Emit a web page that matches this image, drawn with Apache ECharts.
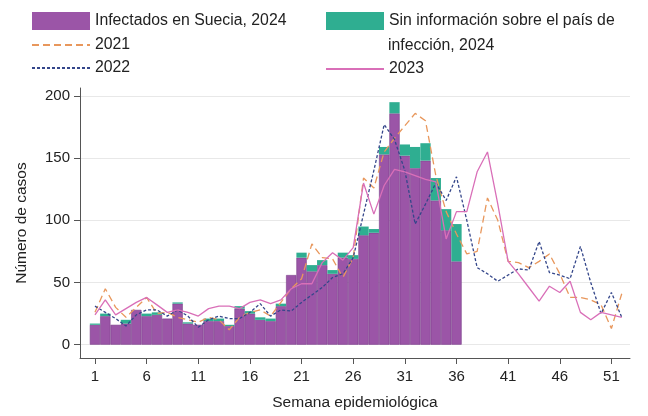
<!DOCTYPE html>
<html>
<head>
<meta charset="utf-8">
<script src="https://cdn.jsdelivr.net/npm/echarts@6/dist/echarts.min.js"></script>
<style>
  html, body { margin: 0; padding: 0; background: #fff; }
  #chart { width: 648px; height: 416px; }
</style>
</head>
<body>
<div id="chart"></div>
<script>
// semanas epidemiológicas
const weeks = [1, 2, 3, 4, 5, 6, 7, 8, 9, 10, 11, 12, 13, 14, 15, 16, 17, 18, 19, 20,
  21, 22, 23, 24, 25, 26, 27, 28, 29, 30, 31, 32, 33, 34, 35, 36, 37, 38, 39, 40,
  41, 42, 43, 44, 45, 46, 47, 48, 49, 50, 51, 52]

// 2024 (semanas 1-36)
const infected2024 = [16, 23, 16, 17, 28, 23, 24, 21, 33, 17, 16, 19, 19, 15, 29, 25, 20, 19,
  31, 56, 70, 59, 64, 57, 70, 69, 88, 90, 153, 186, 152, 142, 148, 116, 92, 67]
const unknown2024 = [1, 2, 0, 3, 0, 2, 2, 0, 1, 1, 0, 2, 2, 1, 2, 2, 2, 2,
  2, 0, 4, 5, 4, 3, 4, 3, 7, 3, 6, 9, 9, 17, 14, 18, 17, 30]

const cases2021 = [26, 45, 30, 22, 30, 38, 25, 26, 22, 20, 18, 22, 20, 12, 22, 26, 28, 23, 34, 45,
  53, 81, 70, 69, 54, 70, 134, 126, 155, 166, 176, 186, 180, 136, 107, 89, 73, 75, 118, 100,
  67, 66, 62, 67, 73, 57, 38, 38, 36, 32, 13, 41]
const cases2022 = [31, 26, 21, 15, 24, 28, 28, 23, 28, 23, 14, 20, 23, 21, 21, 26, 33, 23, 28, 27,
  34, 40, 46, 54, 57, 70, 105, 140, 177, 165, 140, 97, 113, 130, 116, 135, 100, 62, 57, 51,
  56, 61, 60, 83, 58, 56, 53, 79, 50, 25, 42, 22]
const cases2023 = [24, 36, 24, 29, 34, 38, 32, 26, 28, 26, 23, 29, 31, 31, 29, 34, 36, 33, 36, 45,
  49, 49, 66, 74, 68, 78, 130, 105, 128, 141, 139, 136, 133, 131, 85, 107, 107, 139, 155, 113,
  67, 57, 46, 35, 47, 42, 51, 26, 20, 26, 24, 22]

const yTicks = [0, 50, 100, 150, 200]
const xTicks = [1, 6, 11, 16, 21, 26, 31, 36, 41, 46, 51]

const font = 'Liberation Sans, Arial, sans-serif'
const pairs = vals => vals.map((v, i) => [weeks[i], v])
// value first so the stack runs on the y dimension
const stackPairs = vals => vals.map((v, i) => [v, weeks[i]])

const chart = echarts.init(document.getElementById('chart'))

const legendText = { fontSize: 15.8, color: '#222', fontFamily: font }
const noSymbol = { opacity: 0 }

chart.setOption({
  animation: false,
  textStyle: { fontFamily: font },
  grid: { left: 80, right: 18, top: 88, bottom: 54 },
  legend: [
    {
      left: 31, top: 12, orient: 'vertical', padding: 0,
      itemWidth: 58, itemHeight: 18, itemGap: 7,
      textStyle: legendText,
      data: [
        { name: 'Infectados en Suecia, 2024', icon: 'rect', itemStyle: { borderWidth: 0 } },
        { name: '2021', itemStyle: noSymbol },
        { name: '2022', itemStyle: noSymbol }
      ]
    },
    {
      left: 325, top: 12, orient: 'vertical', padding: 0,
      itemWidth: 58, itemHeight: 18, itemGap: 31,
      textStyle: legendText,
      data: [
        { name: 'Sin información sobre el país de', icon: 'rect' },
        { name: '2023', itemStyle: noSymbol }
      ]
    }
  ],
  graphic: [{
    type: 'text', left: 388, top: 38,
    style: { text: 'infección, 2024', font: '15.8px ' + font, fill: '#222' }
  }],
  xAxis: {
    type: 'value',
    min: -0.45,
    max: 52.8,
    name: 'Semana epidemiológica',
    nameLocation: 'middle',
    nameGap: 37,
    nameTextStyle: { fontSize: 15.5, color: '#222' },
    axisLine: { onZero: false, lineStyle: { color: '#555' } },
    axisTick: { show: true, length: 6, customValues: xTicks, lineStyle: { color: '#555' } },
    axisLabel: { customValues: xTicks, fontSize: 15, color: '#222', margin: 11 },
    splitLine: { show: false }
  },
  yAxis: {
    type: 'value',
    min: -10.7,
    max: 206.4,
    name: 'Número de casos',
    nameLocation: 'middle',
    nameGap: 50,
    nameTextStyle: { fontSize: 15.5, color: '#222' },
    axisLine: { show: true, onZero: false, lineStyle: { color: '#555' } },
    axisTick: { show: true, length: 6, customValues: yTicks, lineStyle: { color: '#555' } },
    axisLabel: { customValues: yTicks, fontSize: 15, color: '#222', margin: 10 },
    splitLine: { show: true, lineStyle: { color: '#e8e8e8' } }
  },
  series: [
    {
      name: 'Infectados en Suecia, 2024',
      type: 'bar',
      stack: 'total',
      barWidth: 10.3,
      encode: { x: 1, y: 0 },
      data: stackPairs(infected2024),
      itemStyle: { color: '#9b55a7', borderColor: '#7a3f8a', borderWidth: 0.6 }
    },
    {
      name: 'Sin información sobre el país de',
      type: 'bar',
      stack: 'total',
      barWidth: 10.3,
      encode: { x: 1, y: 0 },
      data: stackPairs(unknown2024),
      itemStyle: { color: '#2fae91', borderWidth: 0 }
    },
    {
      name: '2021',
      type: 'line',
      symbol: 'none',
      data: pairs(cases2021),
      itemStyle: { color: '#e8975c' },
      lineStyle: { color: '#e8975c', width: 1.3, type: [7, 4] }
    },
    {
      name: '2022',
      type: 'line',
      symbol: 'none',
      data: pairs(cases2022),
      itemStyle: { color: '#34468a' },
      lineStyle: { color: '#34468a', width: 1.3, type: [3, 2] }
    },
    {
      name: '2023',
      type: 'line',
      symbol: 'none',
      data: pairs(cases2023),
      itemStyle: { color: '#d96fb8' },
      lineStyle: { color: '#d96fb8', width: 1.3 }
    }
  ]
})
</script>
</body>
</html>
